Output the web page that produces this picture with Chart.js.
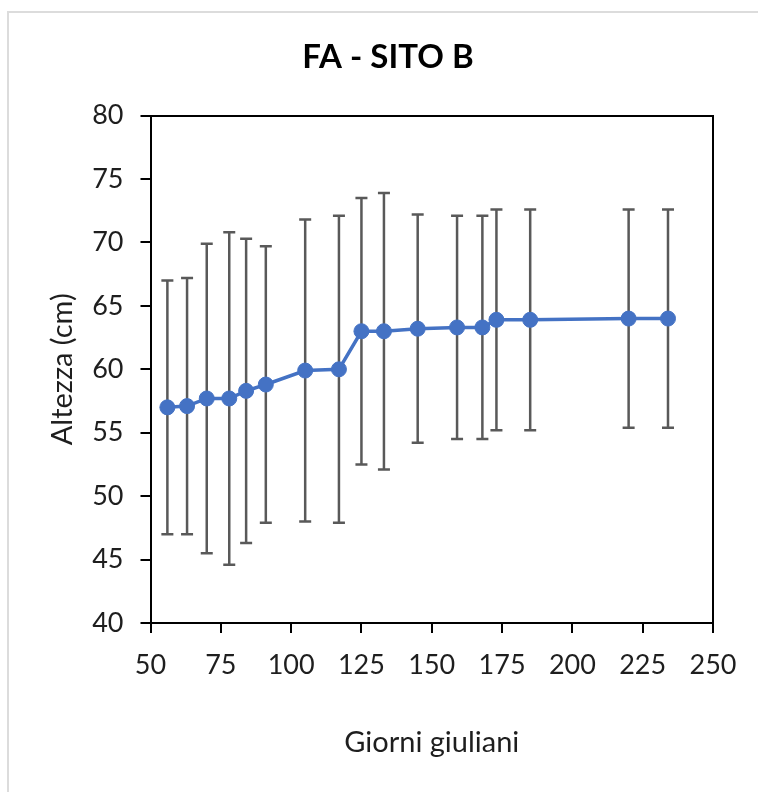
<!DOCTYPE html>
<html>
<head>
<meta charset="utf-8">
<script src="https://cdn.jsdelivr.net/npm/chart.js@4"></script>
<style>
  html, body { margin: 0; padding: 0; background: #fff; overflow: hidden; }
  #frame { position: absolute; left: 7px; top: 11px; width: 800px; height: 800px;
           border: 2px solid #dcdcdc; box-sizing: border-box; }
  #wrap { position: absolute; left: 0; top: 0; width: 758px; height: 792px; }
</style>
</head>
<body>
<div id="frame"></div>
<div id="wrap"><canvas id="chart"></canvas></div>
<script>
// Giorni giuliani of each survey
const days = [56, 63, 70, 78, 84, 91, 105, 117, 125, 133, 145, 159, 168, 173, 185, 220, 234];
// Mean height (cm)
const means = [57.0, 57.1, 57.7, 57.7, 58.3, 58.8, 59.9, 60.0, 63.0, 63.0, 63.2, 63.3, 63.3, 63.9, 63.9, 64.0, 64.0];
// Standard deviation (cm), drawn as error bars
const sd = [10.0, 10.1, 12.2, 13.1, 12.0, 10.9, 11.9, 12.1, 10.5, 10.9, 9.0, 8.8, 8.8, 8.7, 8.7, 8.6, 8.6];

const xTicks = [50, 75, 100, 125, 150, 175, 200, 225, 250];
const yTicks = [40, 45, 50, 55, 60, 65, 70, 75, 80];

Chart.defaults.font.family = 'Lato';
Chart.defaults.color = '#1e1e1e';

// vertical bars with caps: mean +/- sd
const errorBars = {
  id: 'errorBars',
  beforeDatasetsDraw(chart) {
    const { ctx, scales: { x, y } } = chart;
    ctx.save();
    ctx.strokeStyle = '#595959';
    ctx.lineWidth = 2.5;
    days.forEach((d, i) => {
      const px = x.getPixelForValue(d);
      const top = y.getPixelForValue(means[i] + sd[i]);
      const bot = y.getPixelForValue(means[i] - sd[i]);
      ctx.beginPath();
      ctx.moveTo(px, top);
      ctx.lineTo(px, bot);
      ctx.moveTo(px - 6, top);
      ctx.lineTo(px + 6, top);
      ctx.moveTo(px - 6, bot);
      ctx.lineTo(px + 6, bot);
      ctx.stroke();
    });
    ctx.restore();
  }
};

const tickFont = { size: 27 };
const axisTitleFont = { size: 29, lineHeight: 1 };

new Chart(document.getElementById('chart'), {
  type: 'line',
  data: {
    datasets: [{
      data: days.map((d, i) => ({ x: d, y: means[i] })),
      borderColor: '#4472C4',
      backgroundColor: '#4472C4',
      borderWidth: 3.5,
      pointRadius: 7.5,
      pointBorderWidth: 1,
      tension: 0
    }]
  },
  options: {
    responsive: true,
    maintainAspectRatio: false,
    animation: false,
    layout: { padding: { top: 14, left: 48, right: 30, bottom: 30 } },
    plugins: {
      legend: { display: false },
      tooltip: { enabled: false },
      title: {
        display: true,
        text: 'FA - SITO B',
        color: '#000',
        font: { size: 33, weight: 'bold' },
        padding: { top: 24, bottom: 38 }
      }
    },
    scales: {
      x: {
        type: 'linear',
        position: 'bottom',
        min: xTicks[0],
        max: xTicks[xTicks.length - 1],
        afterBuildTicks: (s) => { s.ticks = xTicks.map(v => ({ value: v })); },
        afterFit: (s) => { s.height = 139; },
        ticks: { font: tickFont, padding: 16, maxRotation: 0 },
        grid: { drawOnChartArea: false, drawTicks: true, tickLength: 10, color: '#000', lineWidth: 2 },
        border: { color: '#000', width: 2 },
        title: { display: true, text: 'Giorni giuliani', font: axisTitleFont, padding: { top: 0, bottom: 5 } }
      },
      y: {
        type: 'linear',
        position: 'left',
        min: yTicks[0],
        max: yTicks[yTicks.length - 1],
        afterBuildTicks: (s) => { s.ticks = yTicks.map(v => ({ value: v })); },
        afterFit: (s) => { s.width = 102.5; },
        ticks: { font: tickFont, padding: 17 },
        grid: { drawOnChartArea: false, drawTicks: true, tickLength: 10, color: '#000', lineWidth: 2 },
        border: { color: '#000', width: 2 },
        title: { display: true, text: 'Altezza (cm)', font: axisTitleFont, padding: { top: 0, bottom: 0 } }
      },
      // right and top edges of the plot box
      y2: {
        type: 'linear',
        position: 'right',
        min: 40,
        max: 80,
        afterFit: (s) => { s.width = 15; },
        ticks: { display: false },
        grid: { display: false },
        border: { display: true, color: '#000', width: 2 }
      },
      x2: {
        type: 'linear',
        position: 'top',
        min: 50,
        max: 250,
        afterFit: (s) => { s.height = 0; },
        ticks: { display: false },
        grid: { display: false },
        border: { display: true, color: '#000', width: 2 }
      }
    }
  },
  plugins: [errorBars]
});
</script>
</body>
</html>
